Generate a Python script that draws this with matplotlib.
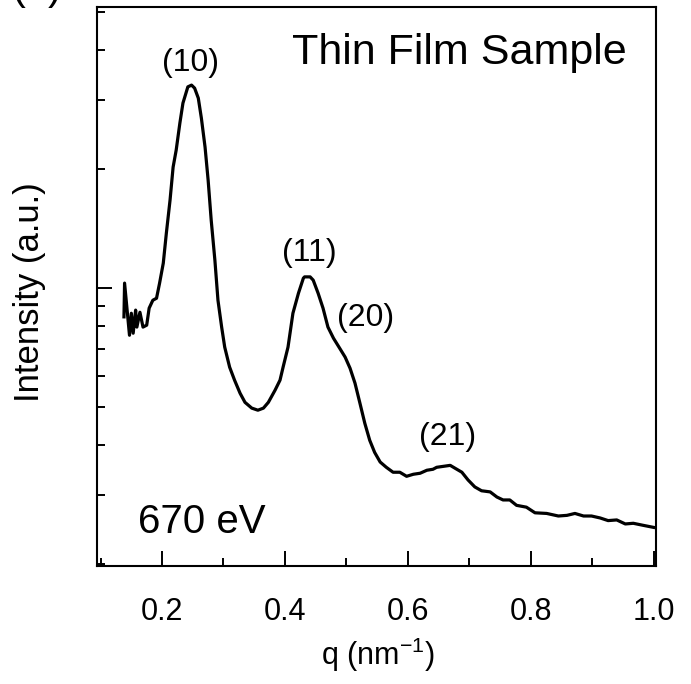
import numpy as np
import matplotlib
matplotlib.use("Agg")
import matplotlib.pyplot as plt
from matplotlib.ticker import LogLocator, NullFormatter, MultipleLocator

plt.rcParams['font.family'] = ['Liberation Sans', 'DejaVu Sans']
plt.rcParams['mathtext.fontset'] = 'custom'
plt.rcParams['mathtext.rm'] = 'Liberation Sans'
plt.rcParams['mathtext.it'] = 'Liberation Sans:italic'

# scattering curve (intensity in a.u., major tick = 1)
q = [0.138, 0.139, 0.147, 0.150, 0.153, 0.157, 0.159, 0.164, 0.169, 0.175,
     0.179, 0.185, 0.191, 0.196, 0.202, 0.207, 0.213, 0.218, 0.223, 0.229,
     0.234, 0.242, 0.248, 0.253, 0.259, 0.264, 0.270, 0.275, 0.280, 0.286,
     0.291, 0.297, 0.302, 0.310, 0.318, 0.327, 0.335, 0.346, 0.356, 0.365,
     0.373, 0.384, 0.392, 0.397, 0.405, 0.413, 0.422, 0.430, 0.432, 0.441,
     0.446, 0.454, 0.462, 0.470, 0.479, 0.489, 0.498, 0.506, 0.514, 0.522,
     0.530, 0.538, 0.546, 0.555, 0.565, 0.576, 0.587, 0.598, 0.609, 0.620,
     0.631, 0.641, 0.647, 0.658, 0.669, 0.677, 0.688, 0.698, 0.709, 0.720,
     0.734, 0.745, 0.755, 0.766, 0.777, 0.793, 0.807, 0.826, 0.845, 0.859,
     0.872, 0.886, 0.899, 0.913, 0.926, 0.940, 0.954, 0.967, 0.983, 1.000]
intensity = [0.846, 1.030, 0.760, 0.864, 0.769, 0.880, 0.797, 0.869, 0.797, 0.806,
             0.890, 0.932, 0.943, 1.030, 1.157, 1.378, 1.670, 2.025, 2.236, 2.617,
             2.941, 3.233, 3.266, 3.209, 3.027, 2.694, 2.275, 1.877, 1.486, 1.177,
             0.932, 0.797, 0.709, 0.631, 0.585, 0.542, 0.514, 0.497, 0.491, 0.497,
             0.514, 0.552, 0.585, 0.631, 0.709, 0.864, 0.971, 1.060, 1.068, 1.068,
             1.048, 0.971, 0.890, 0.797, 0.747, 0.705, 0.669, 0.627, 0.575, 0.512,
             0.455, 0.412, 0.384, 0.363, 0.352, 0.342, 0.342, 0.334, 0.338, 0.340,
             0.346, 0.348, 0.352, 0.354, 0.356, 0.350, 0.342, 0.327, 0.314, 0.307,
             0.305, 0.296, 0.291, 0.291, 0.282, 0.279, 0.270, 0.269, 0.265, 0.266,
             0.269, 0.265, 0.265, 0.262, 0.258, 0.259, 0.253, 0.254, 0.251, 0.248]

# peak labels (Miller indices) and where they sit
peak_labels = ['(10)', '(11)', '(20)', '(21)']
peak_q = [0.247, 0.439, 0.532, 0.664]
peak_i = [3.72, 1.226, 0.839, 0.420]

fig = plt.figure(figsize=(6.91, 6.84), dpi=100)
ax = fig.add_axes([0.1408, 0.1725, 0.8086, 0.8173])

ax.plot(q, intensity, color='black', lw=2.3, solid_joinstyle='round')

ax.set_yscale('log')
ax.set_xlim(0.0946, 1.004)
ax.set_ylim(0.198, 5.15)

ax.xaxis.set_minor_locator(MultipleLocator(0.1))
ax.set_xticks([0.2, 0.4, 0.6, 0.8, 1.0])
ax.set_xticklabels(['0.2', '0.4', '0.6', '0.8', '1.0'])
ax.yaxis.set_major_locator(LogLocator(base=10))
ax.yaxis.set_minor_locator(LogLocator(base=10, subs=np.arange(2, 10)))
ax.yaxis.set_major_formatter(NullFormatter())
ax.yaxis.set_minor_formatter(NullFormatter())

ax.tick_params(which='both', direction='in', top=False, right=False, width=1.4)
ax.tick_params(which='major', length=11)
ax.tick_params(which='minor', length=6)
ax.tick_params(axis='x', which='major', labelsize=22, pad=22)
for s in ax.spines.values():
    s.set_linewidth(1.5)

ax.set_xlabel(r'q (nm$^{-1}$)', fontsize=22)
ax.xaxis.set_label_coords(0.502, -0.124)
ax.set_ylabel('Intensity (a.u.)', fontsize=25)
ax.yaxis.set_label_coords(-0.092, 0.49)

for lab, xq, yi in zip(peak_labels, peak_q, peak_i):
    ax.text(xq, yi, lab, fontsize=23, ha='center', va='center')

ax.text(0.948, 0.918, 'Thin Film Sample', transform=ax.transAxes,
        fontsize=31, ha='right', va='center')
ax.text(0.073, 0.079, '670 eV', transform=ax.transAxes,
        fontsize=29, ha='left', va='center')

# panel letter, mostly cut off at the top edge as in the original
fig.text(37 / 691, 1 + 12 / 684, '(a)', fontsize=30, ha='center', va='center')

fig.savefig('out.png', dpi=100)
